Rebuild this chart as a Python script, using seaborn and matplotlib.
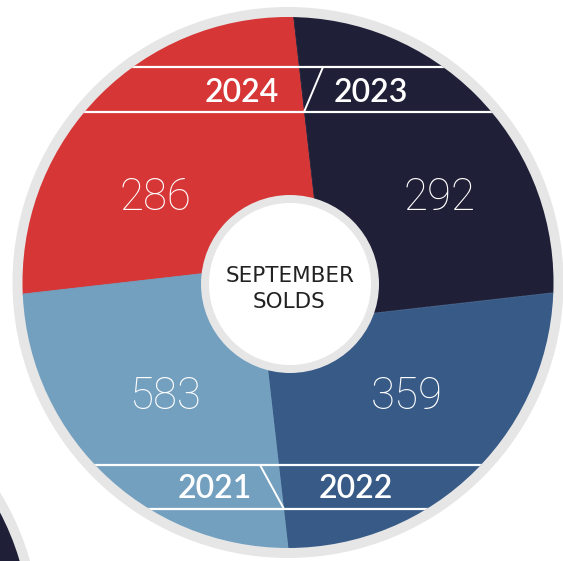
import numpy as np
import matplotlib
matplotlib.use("Agg")
import matplotlib.pyplot as plt
import seaborn as sns
from matplotlib.patches import Circle

# ---- data ----
years = ["2024", "2023", "2022", "2021"]
solds = [286, 292, 359, 583]
center_title = ["SEPTEMBER", "SOLDS"]
colors = ["#d63636", "#1f1f37", "#375a87", "#74a0c0"]

sns.set_theme(style="white")
plt.rcParams['font.family'] = ['Lato', 'DejaVu Sans']

W, H = 563, 561
R = 265.5
CX, CY = 288.0, 282.5


def px(x, y):
    return ((x - CX) / R, (CY - y) / R)


fig = plt.figure(figsize=(W / 100, H / 100), dpi=100)
fig.patch.set_facecolor("white")
ax = fig.add_axes([0, 0, 1, 1])

GREY = "#e6e6e6"

# neighbouring chart peeking in at bottom-left
nc = px(-235, 636)
ax.add_patch(Circle(nc, 275.5 / R, fc=GREY, ec="none", zorder=0))
ax.add_patch(Circle(nc, 1.0, fc=colors[1], ec="none", zorder=0.5))

# outer grey ring
ax.add_patch(Circle((0, 0), 275.5 / R, fc=GREY, ec="none", zorder=0))

# four equal wedges (infographic quadrants)
wedges, _ = ax.pie([1] * len(solds), colors=colors, startangle=186.5,
                   counterclock=False, radius=1.0,
                   wedgeprops=dict(linewidth=0.6))
clip = Circle((0, 0), 1.0, transform=ax.transData)
apex = [px(321, 261), px(328, 318), px(263, 326), px(256, 267.5)]
for w, c, a in zip(wedges, colors, apex):
    w.set_edgecolor(c)
    w.set_center(a)
    w.set_radius(1.6)
    w.set_clip_on(True)
    w.set_clip_path(clip)
    w.set_zorder(1)

# white band lines
for yb in [67, 112, 465, 509]:
    ln, = ax.plot([-1.3, 1.3], [px(0, yb)[1]] * 2, color="white", lw=1.6, zorder=2)
    ln.set_clip_path(clip)
# slashes between year labels
for (x0, y0), (x1, y1) in [((323, 67), (304, 112)), ((260, 465), (284, 509))]:
    p0, p1 = px(x0, y0), px(x1, y1)
    ax.plot([p0[0], p1[0]], [p0[1], p1[1]], color="white", lw=1.4, zorder=2)

# year labels
year_pos = [(241.5, 89.5), (370.5, 89.5), (356, 486.5), (215, 486.5)]
for yr, (x, y) in zip(years, year_pos):
    ax.text(*px(x, y), yr, color="white", fontsize=23, fontweight="semibold",
            ha="center", va="center_baseline", zorder=3)

# values
val_pos = [(155, 193), (440, 193), (407, 392), (165, 392)]
for v, (x, y) in zip(solds, val_pos):
    ax.text(*px(x, y), str(v), color="white", fontsize=31.5, fontweight="light",
            family=["Roboto", "DejaVu Sans"],
            ha="center", va="center_baseline", zorder=3)

# centre hole
hc = px(290, 284)
ax.add_patch(Circle(hc, 89 / R, fc=GREY, ec="none", zorder=4))
ax.add_patch(Circle(hc, 81 / R, fc="white", ec="none", zorder=4))
ax.text(*px(290, 274.5), center_title[0], color="#222222", fontsize=15.5,
        family=["DejaVu Sans"], ha="center", va="center_baseline", zorder=5)
ax.text(*px(289.5, 300), center_title[1], color="#222222", fontsize=15.5,
        family=["DejaVu Sans"], ha="center", va="center_baseline", zorder=5)

ax.set_xlim(-CX / R, (W - CX) / R)
ax.set_ylim(-(H - CY) / R, CY / R)
ax.set_aspect("auto")
ax.axis("off")

fig.savefig("out.png", dpi=100, facecolor="white")
